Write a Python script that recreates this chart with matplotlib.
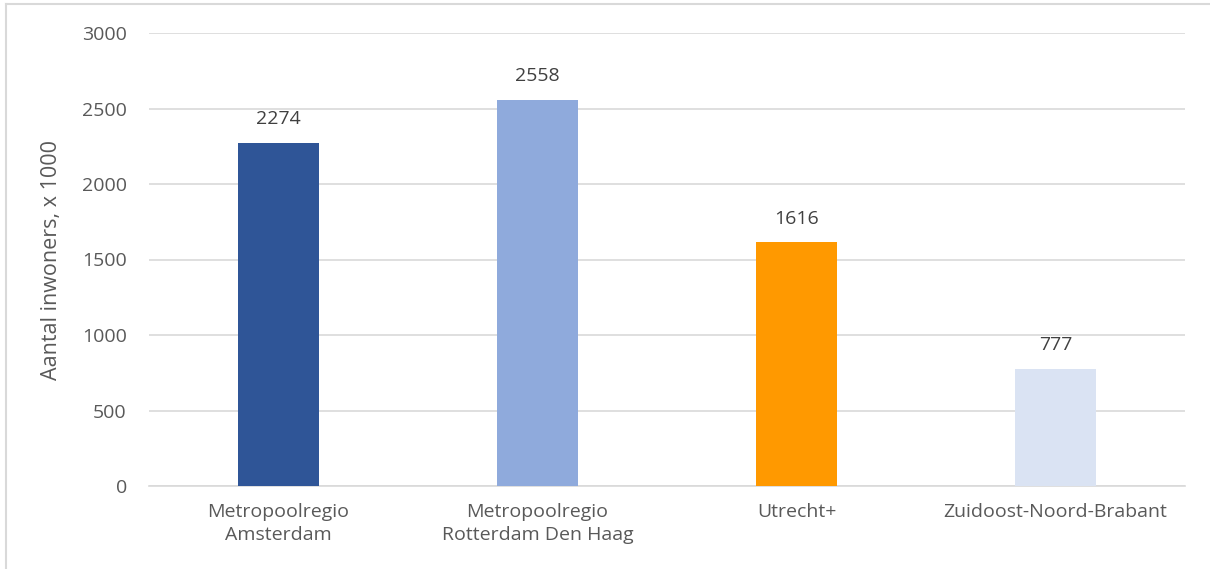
import matplotlib.pyplot as plt
from matplotlib.lines import Line2D

# Data
regio = ['Metropoolregio\nAmsterdam', 'Metropoolregio\nRotterdam Den Haag',
         'Utrecht+', 'Zuidoost-Noord-Brabant']
inwoners = [2274, 2558, 1616, 777]
kleuren = ['#2F5597', '#8FAADC', '#FF9900', '#DAE3F3']

plt.rcParams['font.family'] = ['Open Sans', 'DejaVu Sans']
tekst = '#595959'

fig = plt.figure(figsize=(12.1, 5.69), dpi=100)
ax = fig.add_axes([149 / 1210, 1 - 486 / 569, (1185 - 149) / 1210, (486 - 33) / 569])

x = range(len(regio))
bars = ax.bar(x, inwoners, width=0.315, color=kleuren, zorder=3)

for b, v in zip(bars, inwoners):
    ax.text(b.get_x() + b.get_width() / 2, v + 95, str(v), ha='center', va='bottom',
            fontsize=14, color='#404040')

ax.set_xlim(-0.5, len(regio) - 0.5)
ax.set_ylim(0, 3000)
ax.set_yticks(range(0, 3001, 500))
ax.set_xticks(list(x))
ax.set_xticklabels(regio, fontsize=14, color=tekst, linespacing=1.35)
ax.tick_params(axis='y', labelsize=14, labelcolor=tekst, length=0, pad=16)
ax.tick_params(axis='x', length=0, pad=12)
ax.grid(axis='y', color='#D9D9D9', lw=1.2, zorder=0)
for s in ['top', 'right', 'left']:
    ax.spines[s].set_visible(False)
ax.spines['bottom'].set_color('#D9D9D9')
ax.spines['bottom'].set_linewidth(1.2)

ax.set_ylabel('Aantal inwoners, x 1000', fontsize=15.5, color=tekst, labelpad=14)

# rand om de grafiek (alleen boven en links zichtbaar)
fig.lines.append(Line2D([6 / 1210, 1], [1 - 4 / 569, 1 - 4 / 569], transform=fig.transFigure,
                        color='#D9D9D9', lw=1.5))
fig.lines.append(Line2D([6 / 1210, 6 / 1210], [0, 1 - 4 / 569], transform=fig.transFigure,
                        color='#D9D9D9', lw=1.5))

fig.savefig('out.png', dpi=100)
